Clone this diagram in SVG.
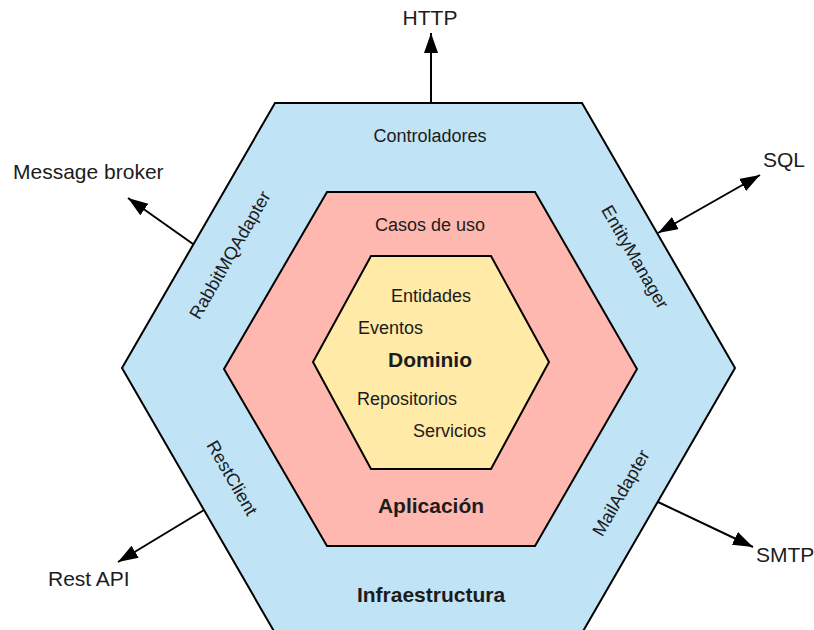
<svg xmlns="http://www.w3.org/2000/svg" width="814" height="630" viewBox="0 0 814 630">
<defs>
<style>
text{font-family:"Liberation Sans",Arial,sans-serif;fill:#1c1c1c}
.hex{stroke:#000;stroke-width:2;stroke-linejoin:miter}
.lbl{font-size:18px}
.ext{font-size:21px}
.b{font-size:21px;font-weight:bold}
.c{text-anchor:middle}
.arrow{stroke:#000;stroke-width:2;fill:none}
</style>
<marker id="ah" markerUnits="userSpaceOnUse" markerWidth="22" markerHeight="16" refX="20" refY="7" orient="auto" viewBox="0 0 22 16">
<path d="M0,0 L20,7 L0,14 z" fill="#000"/>
</marker>
<marker id="ahs" markerUnits="userSpaceOnUse" markerWidth="22" markerHeight="16" refX="20" refY="7" orient="auto-start-reverse" viewBox="0 0 22 16">
<path d="M0,0 L20,7 L0,14 z" fill="#000"/>
</marker>
</defs>
<rect width="814" height="630" fill="#fff"/>
<g id="infraestructura">
<polygon class="hex" fill="#C1E3F6" points="275,103 582,103 735,368 582,633 275,633 122,368"/>
<text class="lbl c" x="430" y="142">Controladores</text>
<text class="b c" x="431" y="602">Infraestructura</text>
<text class="lbl c" transform="translate(230,255) rotate(-60)" y="6">RabbitMQAdapter</text>
<text class="lbl c" transform="translate(635,257) rotate(60)" y="6">EntityManager</text>
<text class="lbl c" transform="translate(232,478) rotate(60)" y="6">RestClient</text>
<text class="lbl c" transform="translate(621,493) rotate(-60)" y="6">MailAdapter</text>
</g>
<g id="aplicacion">
<polygon class="hex" fill="#FFB8B0" points="327,192 535,192 637,369 535,546 327,546 224,369"/>
<text class="lbl c" x="430" y="231">Casos de uso</text>
<text class="b c" x="431" y="513">Aplicación</text>
</g>
<g id="dominio">
<polygon class="hex" fill="#FFEAA7" points="371,256 491,256 549,362 491,469 371,469 313,362"/>
<text class="lbl" x="391" y="302">Entidades</text>
<text class="lbl" x="358" y="334">Eventos</text>
<text class="b c" x="430" y="367">Dominio</text>
<text class="lbl" x="357" y="405">Repositorios</text>
<text class="lbl" x="413" y="437">Servicios</text>
</g>
<g id="connectors">
<line class="arrow" x1="431" y1="103" x2="431" y2="33" marker-end="url(#ah)"/>
<line class="arrow" x1="193" y1="244" x2="128" y2="198" marker-end="url(#ah)"/>
<line class="arrow" x1="658" y1="233" x2="760" y2="175" marker-start="url(#ahs)" marker-end="url(#ah)"/>
<line class="arrow" x1="204" y1="510" x2="118" y2="562" marker-end="url(#ah)"/>
<line class="arrow" x1="658" y1="502" x2="753" y2="547" marker-end="url(#ah)"/>
</g>
<g id="external">
<text class="ext c" x="430" y="25">HTTP</text>
<text class="ext" x="13" y="179">Message broker</text>
<text class="ext" x="763" y="167">SQL</text>
<text class="ext" x="48" y="586">Rest API</text>
<text class="ext" x="756" y="562">SMTP</text>
</g>
</svg>
